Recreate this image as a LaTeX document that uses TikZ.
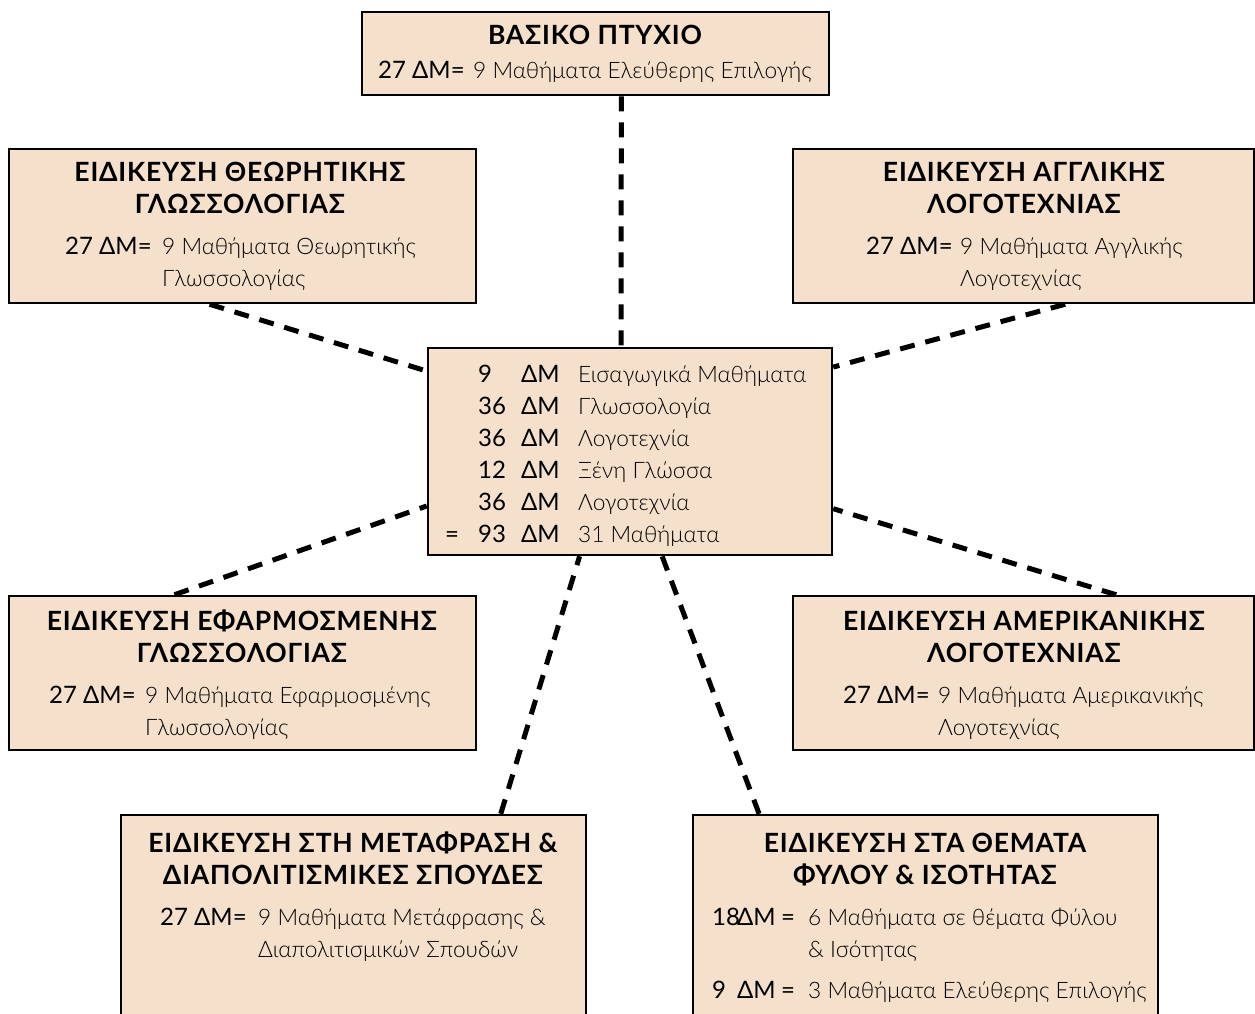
\documentclass[tikz,border=0pt]{standalone}
\usepackage{fontspec}
\setmainfont{Lato}
\newfontfamily\lightfont{Lato Light}
\newfontfamily\regfont{Lato}
\newfontfamily\headfont{Lato}[LetterSpace=3.0]
\usetikzlibrary{calc}
\pgfdeclarelayer{bg}
\pgfsetlayers{bg,main}
\definecolor{boxfill}{RGB}{245,224,204}
\tikzset{
  box/.style={draw=black, fill=boxfill, line width=2.5pt, inner sep=0pt, rectangle},
  link/.style={line width=5pt, dash pattern=on 15pt off 11pt},
  head/.style={inner sep=0pt, font=\fontsize{26.5}{32.5}\selectfont\headfont\bfseries, anchor=base},
  body/.style={inner sep=0pt, font=\fontsize{22.7}{32}\selectfont\lightfont, anchor=base west},
}
\newcommand{\dm}[1]{{\fontsize{24}{32}\selectfont\regfont #1}}
\begin{document}
\begin{tikzpicture}[x=1pt,y=-1pt]
\useasboundingbox (0,0) rectangle (1255,1013);
\clip (0,0) rectangle (1255,1013);
% boxes
\node[box, minimum width=467pt, minimum height=83pt] (top) at (595.5,53.5) {};
\node[box, minimum width=467pt, minimum height=154pt] (tl) at (242.5,226) {};
\node[box, minimum width=461pt, minimum height=154pt] (tr) at (1023.5,226) {};
\node[box, minimum width=404pt, minimum height=207pt] (ctr) at (630,451.5) {};
\node[box, minimum width=467pt, minimum height=154pt] (ml) at (242.5,673) {};
\node[box, minimum width=461pt, minimum height=154pt] (mr) at (1023.5,673) {};
\node[box, minimum width=465pt, minimum height=230pt] (bl) at (353.5,930) {};
\node[box, minimum width=465pt, minimum height=230pt] (br) at (925.5,930) {};
% connectors
\begin{pgfonlayer}{bg}
\fill[white] (0,0) rectangle (1255,1013);
\draw[link] ($(top.south west)!0.555!(top.south east)$) -- ($(ctr.north west)!0.478!(ctr.north east)$);
\draw[link] ($(tl.south west)!0.43!(tl.south east)$) -- ($(ctr.north west)!0.116!(ctr.south west)$);
\draw[link] ($(tr.south west)!0.59!(tr.south east)$) -- ($(ctr.north east)!0.097!(ctr.south east)$);
\draw[link] ($(ml.north west)!0.355!(ml.north east)$) -- ($(ctr.north west)!0.76!(ctr.south west)$);
\draw[link] ($(mr.north west)!0.70!(mr.north east)$) -- ($(ctr.north east)!0.773!(ctr.south east)$);
\draw[link] ($(bl.north west)!0.815!(bl.north east)$) -- ($(ctr.south west)!0.376!(ctr.south east)$);
\draw[link] ($(br.north west)!0.144!(br.north east)$) -- ($(ctr.south west)!0.579!(ctr.south east)$);
\end{pgfonlayer}
% top
\node[head] (topH) at (595,44) {ΒΑΣΙΚΟ ΠΤΥΧΙΟ};
\node[body] (topB) at (378,78) {\begin{tabular}[t]{@{}p{95pt}@{}l@{}}\dm{27 ΔΜ=} & 9 Μαθήματα Ελεύθερης Επιλογής\end{tabular}};
% TL
\node[head] (tlH) at (240,181) {\begin{tabular}[t]{@{}c@{}}ΕΙΔΙΚΕΥΣΗ ΘΕΩΡΗΤΙΚΗΣ\\ ΓΛΩΣΣΟΛΟΓΙΑΣ\end{tabular}};
\node[body] (tlB) at (65,254) {\begin{tabular}[t]{@{}p{97pt}@{}l@{}}\dm{27 ΔΜ=} & 9 Μαθήματα Θεωρητικής\\ & Γλωσσολογίας\end{tabular}};
% TR
\node[head] (trH) at (1024,181) {\begin{tabular}[t]{@{}c@{}}ΕΙΔΙΚΕΥΣΗ ΑΓΓΛΙΚΗΣ\\ ΛΟΓΟΤΕΧΝΙΑΣ\end{tabular}};
\node[body] (trB) at (866,254) {\begin{tabular}[t]{@{}p{94pt}@{}l@{}}\dm{27 ΔΜ=} & 9 Μαθήματα Αγγλικής\\ & Λογοτεχνίας\end{tabular}};
% centre
\node[body] (ctrB) at (445,382) {\begin{tabular}[t]{@{}p{33pt}@{}p{43pt}@{}p{57pt}@{}l@{}}
 & \dm{9} & \dm{ΔΜ} & Εισαγωγικά Μαθήματα\\
 & \dm{36} & \dm{ΔΜ} & Γλωσσολογία\\
 & \dm{36} & \dm{ΔΜ} & Λογοτεχνία\\
 & \dm{12} & \dm{ΔΜ} & Ξένη Γλώσσα\\
 & \dm{36} & \dm{ΔΜ} & Λογοτεχνία\\
 \dm{=} & \dm{93} & \dm{ΔΜ} & 31 Μαθήματα
\end{tabular}};
% ML
\node[head] (mlH) at (242,630) {\begin{tabular}[t]{@{}c@{}}ΕΙΔΙΚΕΥΣΗ ΕΦΑΡΜΟΣΜΕΝΗΣ\\ ΓΛΩΣΣΟΛΟΓΙΑΣ\end{tabular}};
\node[body] (mlB) at (49,703) {\begin{tabular}[t]{@{}p{96pt}@{}l@{}}\dm{27 ΔΜ=} & 9 Μαθήματα Εφαρμοσμένης\\ & Γλωσσολογίας\end{tabular}};
% MR
\node[head] (mrH) at (1024,630) {\begin{tabular}[t]{@{}c@{}}ΕΙΔΙΚΕΥΣΗ ΑΜΕΡΙΚΑΝΙΚΗΣ\\ ΛΟΓΟΤΕΧΝΙΑΣ\end{tabular}};
\node[body] (mrB) at (843,703) {\begin{tabular}[t]{@{}p{95pt}@{}l@{}}\dm{27 ΔΜ=} & 9 Μαθήματα Αμερικανικής\\ & Λογοτεχνίας\end{tabular}};
% BL
\node[head] (blH) at (353,852) {\begin{tabular}[t]{@{}c@{}}ΕΙΔΙΚΕΥΣΗ ΣΤΗ ΜΕΤΑΦΡΑΣΗ \&\\ ΔΙΑΠΟΛΙΤΙΣΜΙΚΕΣ ΣΠΟΥΔΕΣ\end{tabular}};
\node[body] (blB) at (160,925) {\begin{tabular}[t]{@{}p{98pt}@{}l@{}}\dm{27 ΔΜ=} & 9 Μαθήματα Μετάφρασης \&\\ & Διαπολιτισμικών Σπουδών\end{tabular}};
% BR
\node[head] (brH) at (925,852) {\begin{tabular}[t]{@{}c@{}}ΕΙΔΙΚΕΥΣΗ ΣΤΑ ΘΕΜΑΤΑ\\ ΦΥΛΟΥ \& ΙΣΟΤΗΤΑΣ\end{tabular}};
\node[body] (brB) at (712,925) {\begin{tabular}[t]{@{}p{25pt}@{}p{44pt}@{}p{27pt}@{}l@{}}
 \dm{18} & \dm{ΔΜ} & \dm{=} & 6 Μαθήματα σε θέματα Φύλου\\
 & & & \& Ισότητας\\[9pt]
 \dm{9} & \dm{ΔΜ} & \dm{=} & 3 Μαθήματα Ελεύθερης Επιλογής
\end{tabular}};
\end{tikzpicture}
\end{document}
